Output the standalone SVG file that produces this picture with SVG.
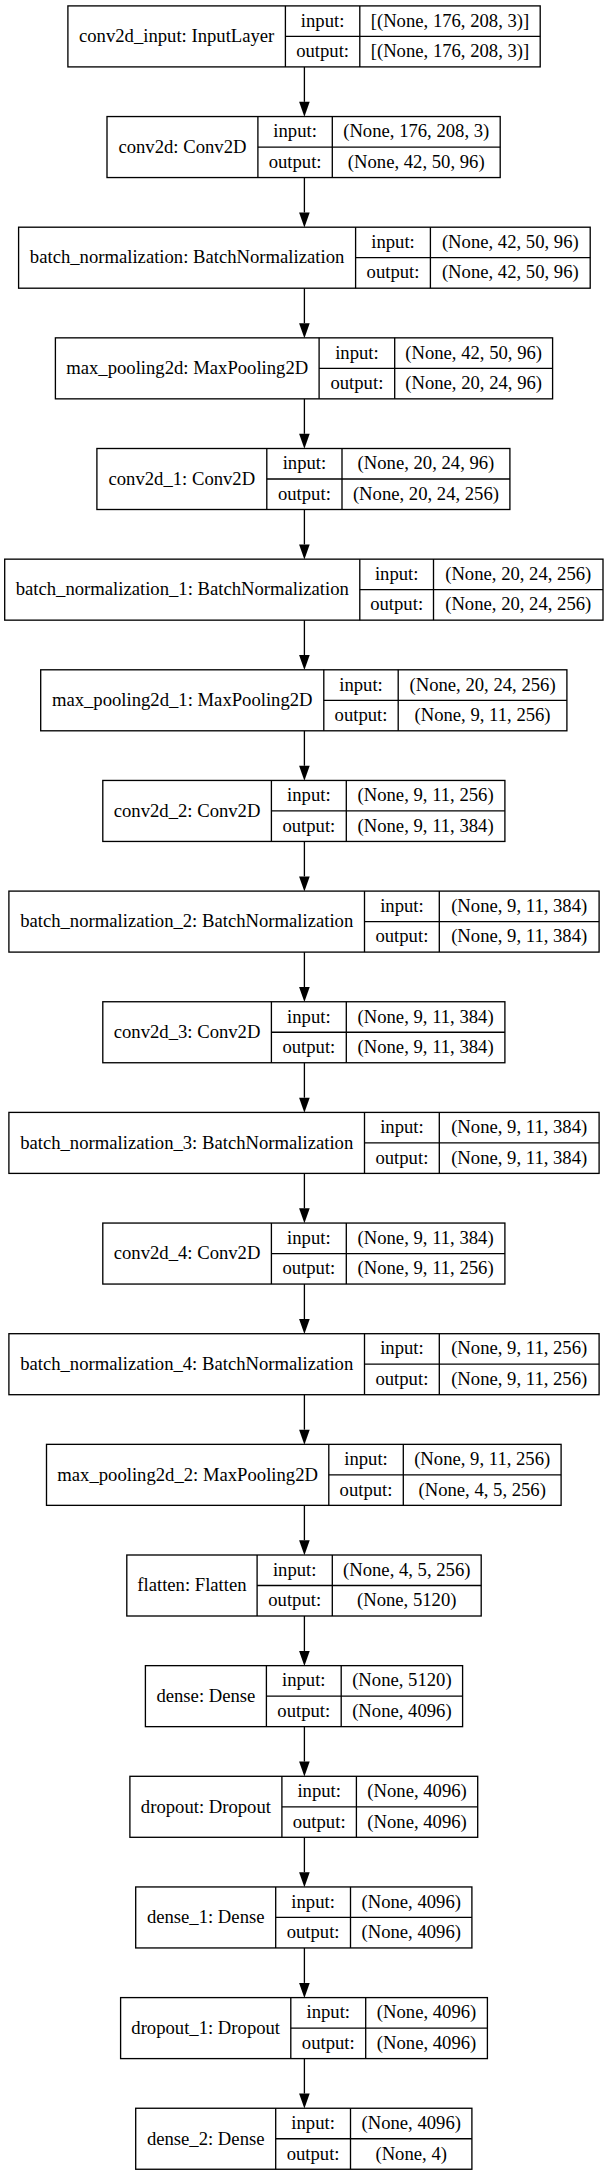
<svg xmlns="http://www.w3.org/2000/svg" width="608" height="2176" viewBox="0 0 608 2176">
<style>
.bg{fill:#fff}
.n rect{fill:#fff;stroke:#000;stroke-width:1.33}
.n line{stroke:#000;stroke-width:1.33}
.n text{font-family:'Liberation Serif','Times New Roman','DejaVu Serif',serif;font-size:18.67px;fill:#000;text-anchor:middle}
.e line{stroke:#000;stroke-width:1.33}
</style>
<defs>
<marker id="ah" markerUnits="userSpaceOnUse" markerWidth="15" markerHeight="11" viewBox="0 0 14.7 10.4" refX="0" refY="5.2" orient="auto" overflow="visible">
<path d="M0,0 L14.7,5.2 L0,10.4 Z" fill="#000"/>
</marker>
</defs>
<rect class="bg" x="0" y="0" width="608" height="2176"/>
<g id="edges" class="e">
<line x1="304.4" y1="66.9" x2="304.4" y2="101.85" marker-end="url(#ah)"/>
<line x1="304.4" y1="177.55" x2="304.4" y2="212.5" marker-end="url(#ah)"/>
<line x1="304.4" y1="288.2" x2="304.4" y2="323.15" marker-end="url(#ah)"/>
<line x1="304.4" y1="398.85" x2="304.4" y2="433.8" marker-end="url(#ah)"/>
<line x1="304.4" y1="509.5" x2="304.4" y2="544.45" marker-end="url(#ah)"/>
<line x1="304.4" y1="620.15" x2="304.4" y2="655.1" marker-end="url(#ah)"/>
<line x1="304.4" y1="730.8" x2="304.4" y2="765.75" marker-end="url(#ah)"/>
<line x1="304.4" y1="841.45" x2="304.4" y2="876.4" marker-end="url(#ah)"/>
<line x1="304.4" y1="952.1" x2="304.4" y2="987.05" marker-end="url(#ah)"/>
<line x1="304.4" y1="1062.75" x2="304.4" y2="1097.7" marker-end="url(#ah)"/>
<line x1="304.4" y1="1173.4" x2="304.4" y2="1208.35" marker-end="url(#ah)"/>
<line x1="304.4" y1="1284.05" x2="304.4" y2="1319.0" marker-end="url(#ah)"/>
<line x1="304.4" y1="1394.7" x2="304.4" y2="1429.65" marker-end="url(#ah)"/>
<line x1="304.4" y1="1505.35" x2="304.4" y2="1540.3" marker-end="url(#ah)"/>
<line x1="304.4" y1="1616.0" x2="304.4" y2="1650.95" marker-end="url(#ah)"/>
<line x1="304.4" y1="1726.65" x2="304.4" y2="1761.6" marker-end="url(#ah)"/>
<line x1="304.4" y1="1837.3" x2="304.4" y2="1872.25" marker-end="url(#ah)"/>
<line x1="304.4" y1="1947.95" x2="304.4" y2="1982.9" marker-end="url(#ah)"/>
<line x1="304.4" y1="2058.6" x2="304.4" y2="2093.55" marker-end="url(#ah)"/>
</g>
<g id="nodes" font-family="Liberation Serif, Times New Roman, DejaVu Serif, serif" font-size="18.67">

<g id="conv2d_input" class="n" transform="translate(0,5.9)">
<rect x="67.9" y="0" width="472.3" height="61"/>
<line x1="285.4" y1="0" x2="285.4" y2="61"/><line x1="359.8" y1="0" x2="359.8" y2="61"/><line x1="285.4" y1="30.5" x2="540.2" y2="30.5"/>
<text x="176.65" y="36.3">conv2d_input: InputLayer</text>
<text x="322.6" y="20.8">input:</text><text x="322.6" y="51.3">output:</text>
<text x="450" y="20.8">[(None, 176, 208, 3)]</text><text x="450" y="51.3">[(None, 176, 208, 3)]</text>
</g>

<g id="conv2d" class="n" transform="translate(0,116.55)">
<rect x="107" y="0" width="393.2" height="61"/>
<line x1="257.9" y1="0" x2="257.9" y2="61"/><line x1="332.3" y1="0" x2="332.3" y2="61"/><line x1="257.9" y1="30.5" x2="500.2" y2="30.5"/>
<text x="182.45" y="36.3">conv2d: Conv2D</text>
<text x="295.1" y="20.8">input:</text><text x="295.1" y="51.3">output:</text>
<text x="416.25" y="20.8">(None, 176, 208, 3)</text><text x="416.25" y="51.3">(None, 42, 50, 96)</text>
</g>

<g id="batch_normalization" class="n" transform="translate(0,227.2)">
<rect x="18.6" y="0" width="571.6" height="61"/>
<line x1="355.6" y1="0" x2="355.6" y2="61"/><line x1="430.4" y1="0" x2="430.4" y2="61"/><line x1="355.6" y1="30.5" x2="590.2" y2="30.5"/>
<text x="187.1" y="36.3">batch_normalization: BatchNormalization</text>
<text x="393" y="20.8">input:</text><text x="393" y="51.3">output:</text>
<text x="510.3" y="20.8">(None, 42, 50, 96)</text><text x="510.3" y="51.3">(None, 42, 50, 96)</text>
</g>

<g id="max_pooling2d" class="n" transform="translate(0,337.85)">
<rect x="55.4" y="0" width="497.2" height="61"/>
<line x1="319.1" y1="0" x2="319.1" y2="61"/><line x1="394.7" y1="0" x2="394.7" y2="61"/><line x1="319.1" y1="30.5" x2="552.6" y2="30.5"/>
<text x="187.25" y="36.3">max_pooling2d: MaxPooling2D</text>
<text x="356.9" y="20.8">input:</text><text x="356.9" y="51.3">output:</text>
<text x="473.65" y="20.8">(None, 42, 50, 96)</text><text x="473.65" y="51.3">(None, 20, 24, 96)</text>
</g>

<g id="conv2d_1" class="n" transform="translate(0,448.5)">
<rect x="96.9" y="0" width="413" height="61"/>
<line x1="266.8" y1="0" x2="266.8" y2="61"/><line x1="342" y1="0" x2="342" y2="61"/><line x1="266.8" y1="30.5" x2="509.9" y2="30.5"/>
<text x="181.85" y="36.3">conv2d_1: Conv2D</text>
<text x="304.4" y="20.8">input:</text><text x="304.4" y="51.3">output:</text>
<text x="425.95" y="20.8">(None, 20, 24, 96)</text><text x="425.95" y="51.3">(None, 20, 24, 256)</text>
</g>

<g id="batch_normalization_1" class="n" transform="translate(0,559.15)">
<rect x="4.7" y="0" width="598.3" height="61"/>
<line x1="359.8" y1="0" x2="359.8" y2="61"/><line x1="433.5" y1="0" x2="433.5" y2="61"/><line x1="359.8" y1="30.5" x2="603" y2="30.5"/>
<text x="182.25" y="36.3">batch_normalization_1: BatchNormalization</text>
<text x="396.65" y="20.8">input:</text><text x="396.65" y="51.3">output:</text>
<text x="518.25" y="20.8">(None, 20, 24, 256)</text><text x="518.25" y="51.3">(None, 20, 24, 256)</text>
</g>

<g id="max_pooling2d_1" class="n" transform="translate(0,669.8)">
<rect x="40.7" y="0" width="526.2" height="61"/>
<line x1="323.8" y1="0" x2="323.8" y2="61"/><line x1="398.2" y1="0" x2="398.2" y2="61"/><line x1="323.8" y1="30.5" x2="566.9" y2="30.5"/>
<text x="182.25" y="36.3">max_pooling2d_1: MaxPooling2D</text>
<text x="361" y="20.8">input:</text><text x="361" y="51.3">output:</text>
<text x="482.55" y="20.8">(None, 20, 24, 256)</text><text x="482.55" y="51.3">(None, 9, 11, 256)</text>
</g>

<g id="conv2d_2" class="n" transform="translate(0,780.45)">
<rect x="102.8" y="0" width="402.1" height="61"/>
<line x1="271.4" y1="0" x2="271.4" y2="61"/><line x1="346.3" y1="0" x2="346.3" y2="61"/><line x1="271.4" y1="30.5" x2="504.9" y2="30.5"/>
<text x="187.1" y="36.3">conv2d_2: Conv2D</text>
<text x="308.85" y="20.8">input:</text><text x="308.85" y="51.3">output:</text>
<text x="425.6" y="20.8">(None, 9, 11, 256)</text><text x="425.6" y="51.3">(None, 9, 11, 384)</text>
</g>

<g id="batch_normalization_2" class="n" transform="translate(0,891.1)">
<rect x="8.9" y="0" width="590.2" height="61"/>
<line x1="364.5" y1="0" x2="364.5" y2="61"/><line x1="439.3" y1="0" x2="439.3" y2="61"/><line x1="364.5" y1="30.5" x2="599.1" y2="30.5"/>
<text x="186.7" y="36.3">batch_normalization_2: BatchNormalization</text>
<text x="401.9" y="20.8">input:</text><text x="401.9" y="51.3">output:</text>
<text x="519.2" y="20.8">(None, 9, 11, 384)</text><text x="519.2" y="51.3">(None, 9, 11, 384)</text>
</g>

<g id="conv2d_3" class="n" transform="translate(0,1001.75)">
<rect x="102.8" y="0" width="402.1" height="61"/>
<line x1="271.4" y1="0" x2="271.4" y2="61"/><line x1="346.3" y1="0" x2="346.3" y2="61"/><line x1="271.4" y1="30.5" x2="504.9" y2="30.5"/>
<text x="187.1" y="36.3">conv2d_3: Conv2D</text>
<text x="308.85" y="20.8">input:</text><text x="308.85" y="51.3">output:</text>
<text x="425.6" y="20.8">(None, 9, 11, 384)</text><text x="425.6" y="51.3">(None, 9, 11, 384)</text>
</g>

<g id="batch_normalization_3" class="n" transform="translate(0,1112.4)">
<rect x="8.9" y="0" width="590.2" height="61"/>
<line x1="364.5" y1="0" x2="364.5" y2="61"/><line x1="439.3" y1="0" x2="439.3" y2="61"/><line x1="364.5" y1="30.5" x2="599.1" y2="30.5"/>
<text x="186.7" y="36.3">batch_normalization_3: BatchNormalization</text>
<text x="401.9" y="20.8">input:</text><text x="401.9" y="51.3">output:</text>
<text x="519.2" y="20.8">(None, 9, 11, 384)</text><text x="519.2" y="51.3">(None, 9, 11, 384)</text>
</g>

<g id="conv2d_4" class="n" transform="translate(0,1223.05)">
<rect x="102.8" y="0" width="402.1" height="61"/>
<line x1="271.4" y1="0" x2="271.4" y2="61"/><line x1="346.3" y1="0" x2="346.3" y2="61"/><line x1="271.4" y1="30.5" x2="504.9" y2="30.5"/>
<text x="187.1" y="36.3">conv2d_4: Conv2D</text>
<text x="308.85" y="20.8">input:</text><text x="308.85" y="51.3">output:</text>
<text x="425.6" y="20.8">(None, 9, 11, 384)</text><text x="425.6" y="51.3">(None, 9, 11, 256)</text>
</g>

<g id="batch_normalization_4" class="n" transform="translate(0,1333.7)">
<rect x="8.9" y="0" width="590.2" height="61"/>
<line x1="364.5" y1="0" x2="364.5" y2="61"/><line x1="439.3" y1="0" x2="439.3" y2="61"/><line x1="364.5" y1="30.5" x2="599.1" y2="30.5"/>
<text x="186.7" y="36.3">batch_normalization_4: BatchNormalization</text>
<text x="401.9" y="20.8">input:</text><text x="401.9" y="51.3">output:</text>
<text x="519.2" y="20.8">(None, 9, 11, 256)</text><text x="519.2" y="51.3">(None, 9, 11, 256)</text>
</g>

<g id="max_pooling2d_2" class="n" transform="translate(0,1444.35)">
<rect x="46.5" y="0" width="514.6" height="61"/>
<line x1="328.8" y1="0" x2="328.8" y2="61"/><line x1="403.3" y1="0" x2="403.3" y2="61"/><line x1="328.8" y1="30.5" x2="561.1" y2="30.5"/>
<text x="187.65" y="36.3">max_pooling2d_2: MaxPooling2D</text>
<text x="366.05" y="20.8">input:</text><text x="366.05" y="51.3">output:</text>
<text x="482.2" y="20.8">(None, 9, 11, 256)</text><text x="482.2" y="51.3">(None, 4, 5, 256)</text>
</g>

<g id="flatten" class="n" transform="translate(0,1555)">
<rect x="126.8" y="0" width="354.4" height="61"/>
<line x1="257.1" y1="0" x2="257.1" y2="61"/><line x1="332.3" y1="0" x2="332.3" y2="61"/><line x1="257.1" y1="30.5" x2="481.2" y2="30.5"/>
<text x="191.95" y="36.3">flatten: Flatten</text>
<text x="294.7" y="20.8">input:</text><text x="294.7" y="51.3">output:</text>
<text x="406.75" y="20.8">(None, 4, 5, 256)</text><text x="406.75" y="51.3">(None, 5120)</text>
</g>

<g id="dense" class="n" transform="translate(0,1665.65)">
<rect x="145.4" y="0" width="317.2" height="61"/>
<line x1="266.4" y1="0" x2="266.4" y2="61"/><line x1="341.2" y1="0" x2="341.2" y2="61"/><line x1="266.4" y1="30.5" x2="462.6" y2="30.5"/>
<text x="205.9" y="36.3">dense: Dense</text>
<text x="303.8" y="20.8">input:</text><text x="303.8" y="51.3">output:</text>
<text x="401.9" y="20.8">(None, 5120)</text><text x="401.9" y="51.3">(None, 4096)</text>
</g>

<g id="dropout" class="n" transform="translate(0,1776.3)">
<rect x="129.9" y="0" width="347.8" height="61"/>
<line x1="281.9" y1="0" x2="281.9" y2="61"/><line x1="356.4" y1="0" x2="356.4" y2="61"/><line x1="281.9" y1="30.5" x2="477.7" y2="30.5"/>
<text x="205.9" y="36.3">dropout: Dropout</text>
<text x="319.15" y="20.8">input:</text><text x="319.15" y="51.3">output:</text>
<text x="417.05" y="20.8">(None, 4096)</text><text x="417.05" y="51.3">(None, 4096)</text>
</g>

<g id="dense_1" class="n" transform="translate(0,1886.95)">
<rect x="135.7" y="0" width="336.2" height="61"/>
<line x1="275.7" y1="0" x2="275.7" y2="61"/><line x1="350.5" y1="0" x2="350.5" y2="61"/><line x1="275.7" y1="30.5" x2="471.9" y2="30.5"/>
<text x="205.7" y="36.3">dense_1: Dense</text>
<text x="313.1" y="20.8">input:</text><text x="313.1" y="51.3">output:</text>
<text x="411.2" y="20.8">(None, 4096)</text><text x="411.2" y="51.3">(None, 4096)</text>
</g>

<g id="dropout_1" class="n" transform="translate(0,1997.6)">
<rect x="120.6" y="0" width="366.8" height="61"/>
<line x1="290.8" y1="0" x2="290.8" y2="61"/><line x1="365.7" y1="0" x2="365.7" y2="61"/><line x1="290.8" y1="30.5" x2="487.4" y2="30.5"/>
<text x="205.7" y="36.3">dropout_1: Dropout</text>
<text x="328.25" y="20.8">input:</text><text x="328.25" y="51.3">output:</text>
<text x="426.55" y="20.8">(None, 4096)</text><text x="426.55" y="51.3">(None, 4096)</text>
</g>

<g id="dense_2" class="n" transform="translate(0,2108.25)">
<rect x="135.7" y="0" width="336.2" height="61"/>
<line x1="275.7" y1="0" x2="275.7" y2="61"/><line x1="350.5" y1="0" x2="350.5" y2="61"/><line x1="275.7" y1="30.5" x2="471.9" y2="30.5"/>
<text x="205.7" y="36.3">dense_2: Dense</text>
<text x="313.1" y="20.8">input:</text><text x="313.1" y="51.3">output:</text>
<text x="411.2" y="20.8">(None, 4096)</text><text x="411.2" y="51.3">(None, 4)</text>
</g>
</g>
</svg>
